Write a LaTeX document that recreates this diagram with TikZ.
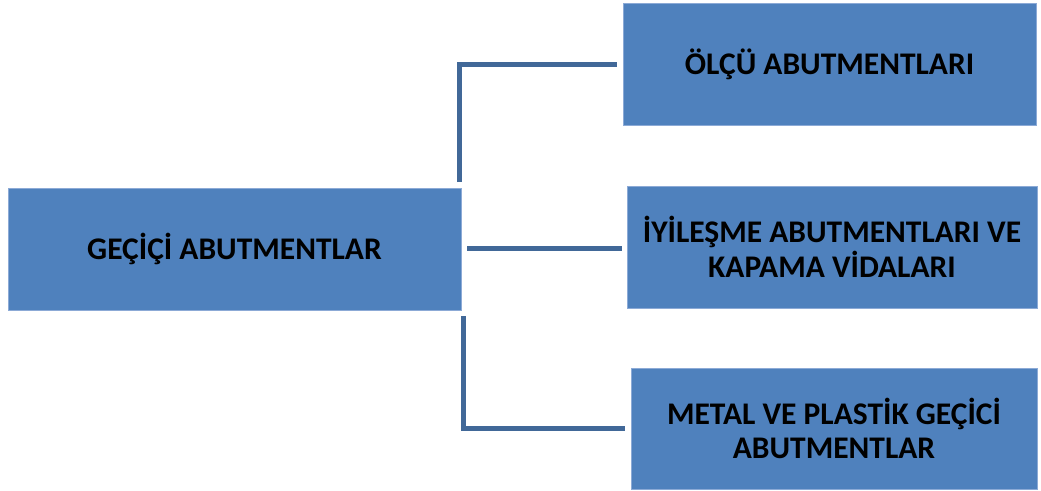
\documentclass[tikz,border=0pt]{standalone}
\usepackage{fontspec}
\setmainfont{Carlito}
\usetikzlibrary{calc}
\definecolor{boxblue}{RGB}{79,129,189}
\definecolor{boxedge}{RGB}{140,170,214}
\definecolor{linkblue}{RGB}{65,104,152}
\tikzset{
  box/.style={rectangle, fill=boxblue, draw=boxedge, line width=0.8pt,
    align=center, inner sep=0pt, outer sep=0pt,
    font=\bfseries\fontsize{31.5}{34.5}\selectfont, text=black},
  link/.style={draw=linkblue, line width=5pt, line cap=butt, line join=miter}
}
\begin{document}
\begin{tikzpicture}[x=1pt, y=-1pt]
\useasboundingbox (0,0) rectangle (1041,490);

% root and its three branches
\node[box, minimum width=453pt, minimum height=122pt] (g) at (234.5,249) {GEÇİÇİ ABUTMENTLAR};
\node[box, minimum width=413pt, minimum height=122pt] (o) at (829.5,64) {ÖLÇÜ ABUTMENTLARI};
\node[box, minimum width=410pt, minimum height=122pt] (iv) at (832,247) {İYİLEŞME ABUTMENTLARI VE\\KAPAMA VİDALARI};
\node[box, minimum width=406pt, minimum height=121pt] (m) at (834,428.5) {METAL VE PLASTİK GEÇİCİ\\ABUTMENTLAR};

% elbow connectors
\draw[link] ([xshift=-2pt,yshift=6pt]g.north east) |- ([xshift=-6pt]o.west);
\draw[link] ($(g.east)+(6,-1)$) -- ($(iv.west)+(-5,1)$);
\draw[link] ([xshift=2pt,yshift=-6pt]g.south east) |- ([xshift=-6pt]m.west);
\end{tikzpicture}
\end{document}
